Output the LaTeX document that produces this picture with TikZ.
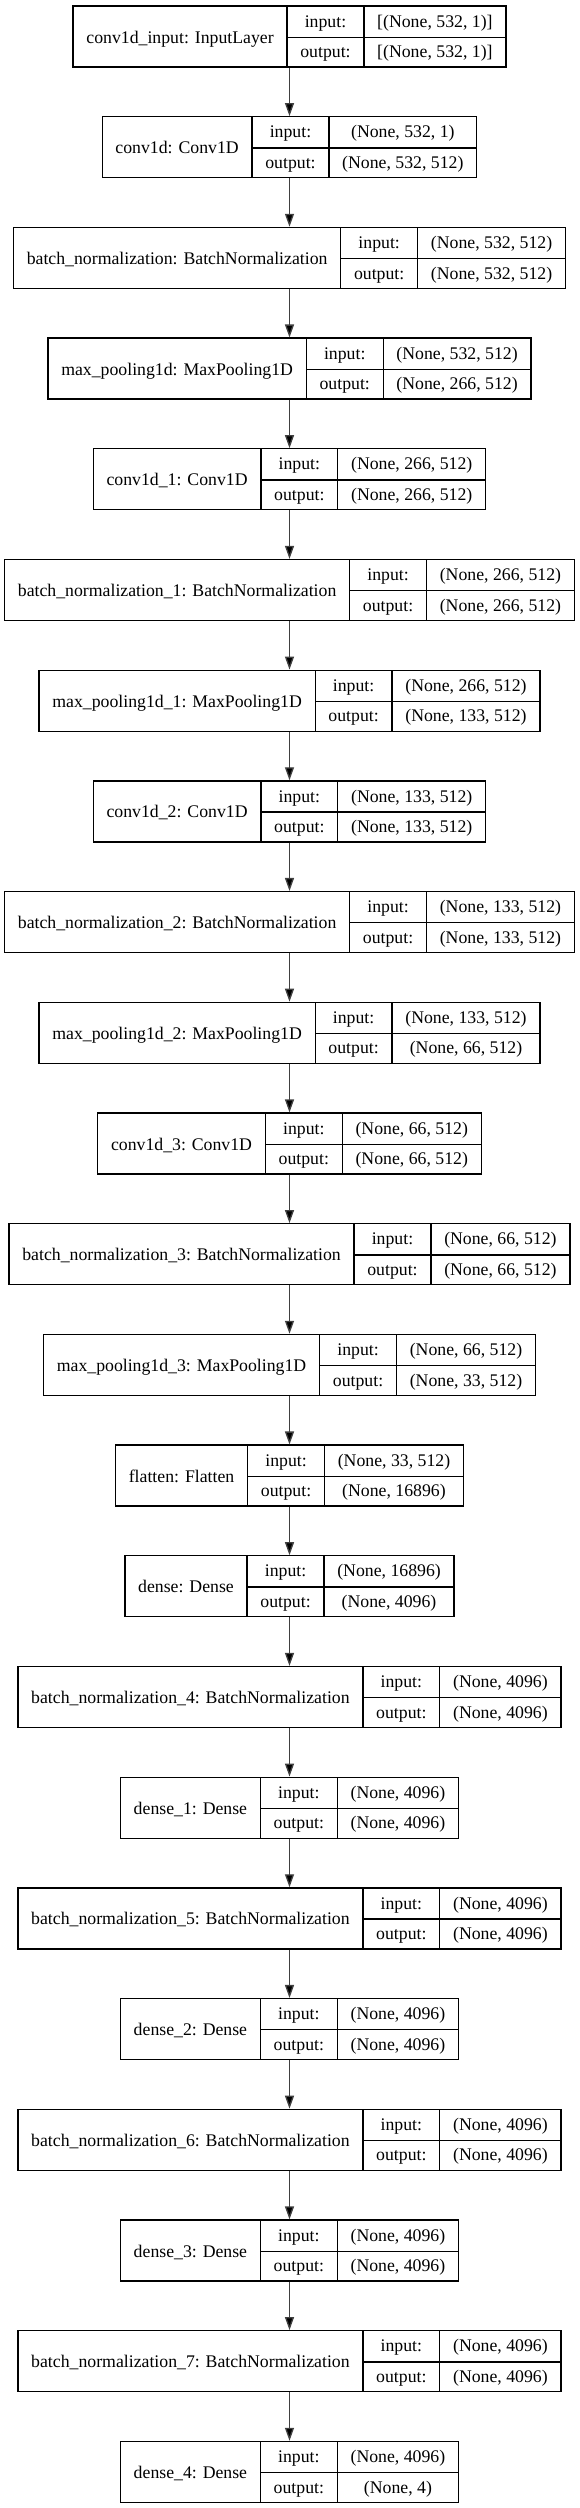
\documentclass[tikz,border=0pt]{standalone}
\usepackage{fontspec}
\setmainfont{Liberation Serif}
\usepackage{tikz}
\definecolor{Lyr}{RGB}{0,0,0}
\definecolor{Lyr1}{RGB}{64,64,64}
\usetikzlibrary{arrows.meta}

\setlength{\tabcolsep}{13.3pt}
\setlength{\arrayrulewidth}{1.3pt}
\newcommand{\rowstrut}{\rule[-9.4pt]{0pt}{30.5pt}}
\newcommand{\lyrtab}[3]{\begin{tabular}{c|c|c}
    \raisebox{-15.9pt}[0pt][0pt]{#1} & input:\rowstrut & #2 \\ \cline{2-3}
    & output:\rowstrut & #3
  \end{tabular}}
\tikzset{
  lyr/.style={draw=Lyr, line width=1.3pt, inner sep=0pt,
              font=\fontsize{17.75pt}{21pt}\selectfont},
  lnk/.style={draw=Lyr1, line width=1.3pt,
              -{Triangle[length=13pt, width=9pt, fill=Lyr]}}
}

\begin{document}
\begin{tikzpicture}
    \fill[white] (0,0) rectangle (580pt,-2508pt);
    \useasboundingbox (0,0) rectangle (580pt,-2508pt);
    \node [lyr] (ly0) at (289.5pt,-36.5pt)
            {\lyrtab{conv1d\_input: InputLayer}{[(None, 532, 1)]}{[(None, 532, 1)]}};
    \node [lyr] (ly1) at (289.5pt,-147.2pt)
            {\lyrtab{conv1d: Conv1D}{(None, 532, 1)}{(None, 532, 512)}};
    \node [lyr] (ly2) at (289.5pt,-257.9pt)
            {\lyrtab{batch\_normalization: BatchNormalization}{(None, 532, 512)}{(None, 532, 512)}};
    \node [lyr] (ly3) at (289.5pt,-368.6pt)
            {\lyrtab{max\_pooling1d: MaxPooling1D}{(None, 532, 512)}{(None, 266, 512)}};
    \node [lyr] (ly4) at (289.5pt,-479.3pt)
            {\lyrtab{conv1d\_1: Conv1D}{(None, 266, 512)}{(None, 266, 512)}};
    \node [lyr] (ly5) at (289.5pt,-590.0pt)
            {\lyrtab{batch\_normalization\_1: BatchNormalization}{(None, 266, 512)}{(None, 266, 512)}};
    \node [lyr] (ly6) at (289.5pt,-700.7pt)
            {\lyrtab{max\_pooling1d\_1: MaxPooling1D}{(None, 266, 512)}{(None, 133, 512)}};
    \node [lyr] (ly7) at (289.5pt,-811.4pt)
            {\lyrtab{conv1d\_2: Conv1D}{(None, 133, 512)}{(None, 133, 512)}};
    \node [lyr] (ly8) at (289.5pt,-922.1pt)
            {\lyrtab{batch\_normalization\_2: BatchNormalization}{(None, 133, 512)}{(None, 133, 512)}};
    \node [lyr] (ly9) at (289.5pt,-1032.8pt)
            {\lyrtab{max\_pooling1d\_2: MaxPooling1D}{(None, 133, 512)}{(None, 66, 512)}};
    \node [lyr] (ly10) at (289.5pt,-1143.5pt)
            {\lyrtab{conv1d\_3: Conv1D}{(None, 66, 512)}{(None, 66, 512)}};
    \node [lyr] (ly11) at (289.5pt,-1254.2pt)
            {\lyrtab{batch\_normalization\_3: BatchNormalization}{(None, 66, 512)}{(None, 66, 512)}};
    \node [lyr] (ly12) at (289.5pt,-1364.9pt)
            {\lyrtab{max\_pooling1d\_3: MaxPooling1D}{(None, 66, 512)}{(None, 33, 512)}};
    \node [lyr] (ly13) at (289.5pt,-1475.6pt)
            {\lyrtab{flatten: Flatten}{(None, 33, 512)}{(None, 16896)}};
    \node [lyr] (ly14) at (289.5pt,-1586.3pt)
            {\lyrtab{dense: Dense}{(None, 16896)}{(None, 4096)}};
    \node [lyr] (ly15) at (289.5pt,-1697.0pt)
            {\lyrtab{batch\_normalization\_4: BatchNormalization}{(None, 4096)}{(None, 4096)}};
    \node [lyr] (ly16) at (289.5pt,-1807.7pt)
            {\lyrtab{dense\_1: Dense}{(None, 4096)}{(None, 4096)}};
    \node [lyr] (ly17) at (289.5pt,-1918.4pt)
            {\lyrtab{batch\_normalization\_5: BatchNormalization}{(None, 4096)}{(None, 4096)}};
    \node [lyr] (ly18) at (289.5pt,-2029.1pt)
            {\lyrtab{dense\_2: Dense}{(None, 4096)}{(None, 4096)}};
    \node [lyr] (ly19) at (289.5pt,-2139.8pt)
            {\lyrtab{batch\_normalization\_6: BatchNormalization}{(None, 4096)}{(None, 4096)}};
    \node [lyr] (ly20) at (289.5pt,-2250.5pt)
            {\lyrtab{dense\_3: Dense}{(None, 4096)}{(None, 4096)}};
    \node [lyr] (ly21) at (289.5pt,-2361.2pt)
            {\lyrtab{batch\_normalization\_7: BatchNormalization}{(None, 4096)}{(None, 4096)}};
    \node [lyr] (ly22) at (289.5pt,-2471.9pt)
            {\lyrtab{dense\_4: Dense}{(None, 4096)}{(None, 4)}};
    \foreach \i [remember=\i as \j (initially 0)] in {1,...,22}
        \draw [lnk] (ly\j.south) -- (ly\i.north);
\end{tikzpicture}
\end{document}
